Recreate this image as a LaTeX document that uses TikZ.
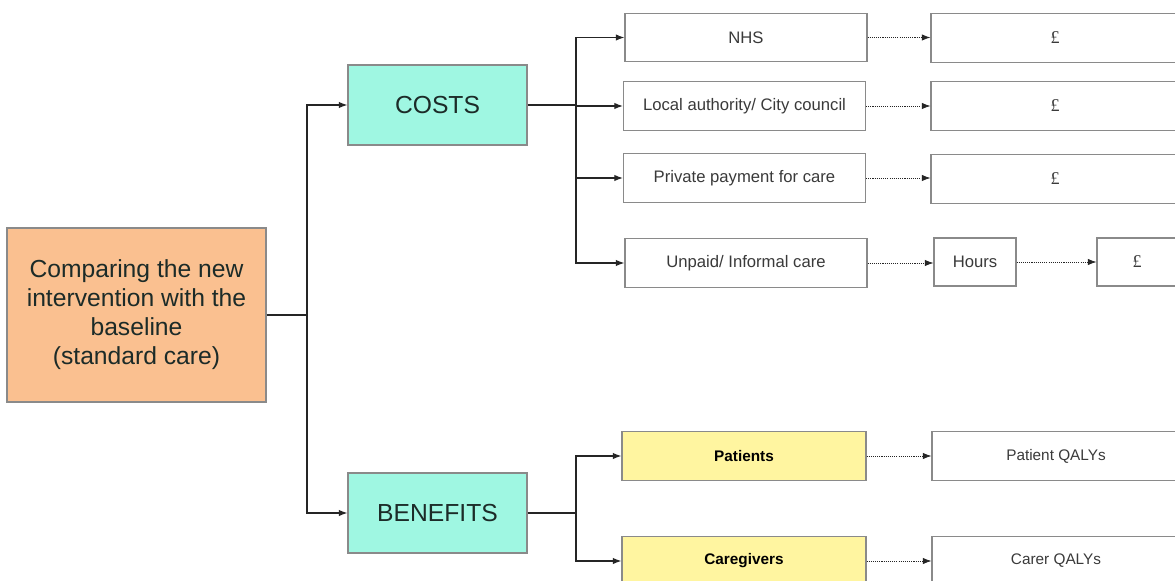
\documentclass[tikz,border=0pt]{standalone}
\usepackage{fontspec}
\setmainfont{Liberation Sans}
\newfontfamily\poundfont{Liberation Serif}
\usetikzlibrary{arrows.meta}
\definecolor{orangefill}{HTML}{FAC090}
\definecolor{tealfill}{HTML}{9FF7E2}
\definecolor{yellowfill}{HTML}{FFF5A0}
\definecolor{boxgray}{HTML}{8A8A8A}
\definecolor{linegray}{HTML}{252525}
\definecolor{textgray}{HTML}{3A3A3A}
\definecolor{darktext}{HTML}{1C2B28}
\tikzset{
  box/.style={draw=boxgray, line width=0.8pt, inner sep=0pt, align=center, text=textgray,
    font=\fontsize{12.5}{15}\selectfont},
  whitebox/.style={box, minimum width=181.5pt, minimum height=36.5pt},
  resultbox/.style={box, minimum width=186pt, minimum height=36.5pt},
  yellowbox/.style={box, fill=yellowfill, minimum width=183pt, minimum height=37pt,
    text=black, font=\fontsize{11.5}{14}\selectfont\bfseries},
  tealbox/.style={box, fill=tealfill, minimum width=134.25pt, minimum height=60pt,
    text=darktext, font=\fontsize{18.5}{22}\selectfont},
  mainbox/.style={box, fill=orangefill, minimum width=194.25pt, minimum height=130.5pt,
    text=darktext, font=\fontsize{18.5}{21.75}\selectfont},
  solidarrow/.style={draw=linegray, line width=0.8pt, -{Latex[length=6.5pt,width=4.8pt]}},
  solidline/.style={draw=linegray, line width=0.8pt},
  dotarrow/.style={draw=linegray, line width=0.6pt, dash pattern=on 0.8pt off 0.8pt,
    -{Latex[length=6.5pt,width=4.8pt]}},
  pound/.style={font=\poundfont\fontsize{13.5}{15}\selectfont}
}
\begin{document}
\begin{tikzpicture}[x=0.75pt,y=-0.75pt]
\useasboundingbox (0,0) rectangle (1175,581);
\clip (0,0) rectangle (1175,581);
\fill[white] (0,0) rectangle (1175,581);

% left main box
\node[mainbox] (main) at (136.5,315) {Comparing the new\\intervention with the\\baseline\\ (standard care)};

% cost / benefit boxes
\node[tealbox] (costs) at (437.5,105) {COSTS};
\node[tealbox] (benefits) at (437.5,513) {BENEFITS};

% cost categories
\node[whitebox] (nhs) at (746,37.5) {NHS};
\node[whitebox] (local) at (744.5,106) {Local authority/ City council};
\node[whitebox] (private) at (744.5,178) {Private payment for care};
\node[whitebox] (unpaid) at (746,263) {Unpaid/ Informal care};

% pound boxes
\node[resultbox, pound] (p1) at (1055,38) {£};
\node[resultbox, pound] (p2) at (1055,106) {£};
\node[resultbox, pound] (p3) at (1055,179) {£};
\node[box, minimum width=61.5pt, minimum height=36pt] (hours) at (975,262) {Hours};
\node[box, pound, minimum width=60pt, minimum height=36pt] (p4) at (1137,262) {£};

% benefit categories
\node[yellowbox] (patients) at (744,456) {Patients};
\node[yellowbox] (carers) at (744,561) {Caregivers};
\node[resultbox, font=\fontsize{11.5}{14}\selectfont] (pq) at (1056,456) {Patient QALYs};
\node[resultbox, font=\fontsize{11.5}{14}\selectfont] (cq) at (1056,561) {Carer QALYs};

% junctions
\coordinate (j1) at (307,315);
\coordinate (j2) at (576,105);
\coordinate (j3) at (576,513);

% connectors
\draw[solidline] (main.east) -- (j1);
\draw[solidarrow] (j1) |- (costs.west);
\draw[solidarrow] (j1) |- (benefits.west);

\draw[solidline] (costs.east) -- (j2);
\draw[solidarrow] (j2) |- (nhs.west);
\draw[solidarrow] (j2) |- (local.west);
\draw[solidarrow] (j2) |- (private.west);
\draw[solidarrow] (j2) |- (unpaid.west);

\draw[solidline] (benefits.east) -- (j3);
\draw[solidarrow] (j3) |- (patients.west);
\draw[solidarrow] (j3) |- (carers.west);

\draw[dotarrow] (nhs.east) -- (p1.west |- nhs.east);
\draw[dotarrow] (local.east) -- (p2.west |- local.east);
\draw[dotarrow] (private.east) -- (p3.west |- private.east);
\draw[dotarrow] (unpaid.east) -- (hours.west |- unpaid.east);
\draw[dotarrow] (hours.east) -- (p4.west);
\draw[dotarrow] (patients.east) -- (pq.west);
\draw[dotarrow] (carers.east) -- (cq.west);
\end{tikzpicture}
\end{document}
